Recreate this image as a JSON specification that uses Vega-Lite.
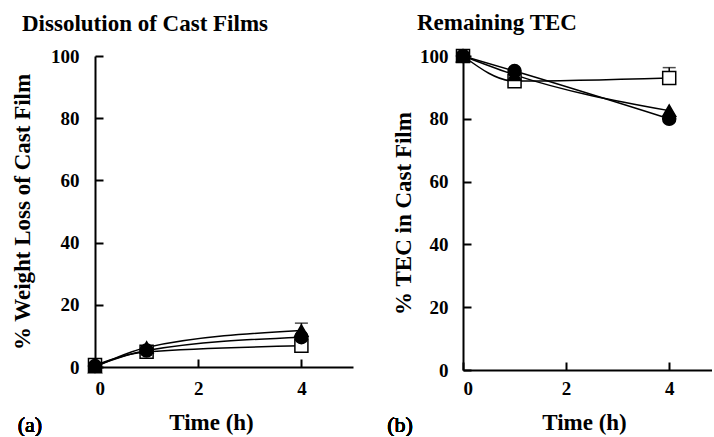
{
  "$schema": "https://vega.github.io/schema/vega-lite/v6.json",
  "padding": {"left": 11, "top": 12, "right": 0, "bottom": 0},
  "spacing": 34,
  "datasets": {
    "weightloss": [
      {"time": 0, "value": 0.6, "series": "square"},
      {"time": 1, "value": 4.9, "series": "square"},
      {"time": 4, "value": 6.8, "series": "square"},
      {"time": 0, "value": 0.3, "series": "circle"},
      {"time": 1, "value": 5.3, "series": "circle"},
      {"time": 4, "value": 9.6, "series": "circle"},
      {"time": 0, "value": 0.0, "series": "triangle"},
      {"time": 1, "value": 6.3, "series": "triangle"},
      {"time": 4, "value": 11.7, "hi": 14.1, "series": "triangle"}
    ],
    "tec": [
      {"time": 0, "value": 100, "series": "square"},
      {"time": 1, "value": 92.0, "series": "square"},
      {"time": 4, "value": 93.0, "hi": 96.3, "series": "square"},
      {"time": 0, "value": 100, "series": "circle"},
      {"time": 1, "value": 95.2, "series": "circle"},
      {"time": 4, "value": 80.0, "series": "circle"},
      {"time": 0, "value": 100, "series": "triangle"},
      {"time": 1, "value": 94.0, "series": "triangle"},
      {"time": 4, "value": 82.6, "series": "triangle"}
    ]
  },
  "hconcat": [
    {
      "width": 258,
      "height": 311,
      "title": {"text": "Dissolution of Cast Films", "anchor": "start", "frame": "group", "dx": -73},
      "data": {"name": "weightloss"},
      "encoding": {
        "x": {"field": "time", "type": "quantitative", "scale": {"domain": [0, 5]},
              "axis": {"values": [0, 2, 4], "title": "Time (h)", "titleX": 116, "labelPadding": 20, "titlePadding": 13}},
        "y": {"field": "value", "type": "quantitative", "scale": {"domain": [0, 100]},
              "axis": {"values": [0, 20, 40, 60, 80, 100], "title": "% Weight Loss of Cast Film", "labelPadding": 24, "titlePadding": 16}}
      },
      "layer": [
        {"mark": {"type": "line", "color": "black", "strokeWidth": 1.5, "interpolate": "monotone"},
         "encoding": {"detail": {"field": "series"}}},
        {"transform": [{"filter": "isValid(datum.hi)"}],
         "mark": {"type": "rule", "color": "black", "strokeWidth": 1.5},
         "encoding": {"y2": {"field": "hi"}}},
        {"transform": [{"filter": "isValid(datum.hi)"}],
         "mark": {"type": "tick", "orient": "horizontal", "color": "black", "size": 13, "thickness": 1.5},
         "encoding": {"y": {"field": "hi", "type": "quantitative"}}},
        {"mark": {"type": "point", "filled": true, "stroke": "black", "strokeWidth": 1.5, "size": 170, "opacity": 1},
         "encoding": {
           "shape": {"field": "series", "type": "nominal", "scale": {"domain": ["square", "circle", "triangle"], "range": ["square", "circle", "triangle-up"]}, "legend": null},
           "fill": {"field": "series", "type": "nominal", "scale": {"domain": ["square", "circle", "triangle"], "range": ["white", "black", "black"]}, "legend": null}
         }},
        {"mark": {"type": "text", "text": "(a)", "font": "Liberation Serif", "fontSize": 22, "fontWeight": 400, "color": "black", "baseline": "middle", "align": "center"},
         "encoding": {"x": {"datum": -1.26}, "y": {"datum": -18.6}}}
      ]
    },
    {
      "width": 249,
      "height": 314,
      "title": {"text": "Remaining TEC", "anchor": "start", "frame": "group", "dx": -46},
      "data": {"name": "tec"},
      "encoding": {
        "x": {"field": "time", "type": "quantitative", "scale": {"domain": [0, 4.83]},
              "axis": {"values": [0, 2, 4], "title": "Time (h)", "titleX": 121, "labelPadding": 17, "titlePadding": 13}},
        "y": {"field": "value", "type": "quantitative", "scale": {"domain": [0, 100]},
              "axis": {"values": [0, 20, 40, 60, 80, 100], "title": "% TEC in Cast Film", "labelPadding": 23, "titlePadding": 4}}
      },
      "layer": [
        {"mark": {"type": "line", "color": "black", "strokeWidth": 1.5, "interpolate": "monotone"},
         "encoding": {"detail": {"field": "series"}}},
        {"transform": [{"filter": "isValid(datum.hi)"}],
         "mark": {"type": "rule", "color": "black", "strokeWidth": 1.5},
         "encoding": {"y2": {"field": "hi"}}},
        {"transform": [{"filter": "isValid(datum.hi)"}],
         "mark": {"type": "tick", "orient": "horizontal", "color": "black", "size": 13, "thickness": 1.5},
         "encoding": {"y": {"field": "hi", "type": "quantitative"}}},
        {"mark": {"type": "point", "filled": true, "stroke": "black", "strokeWidth": 1.5, "size": 170, "opacity": 1},
         "encoding": {
           "shape": {"field": "series", "type": "nominal", "scale": {"domain": ["square", "circle", "triangle"], "range": ["square", "circle", "triangle-up"]}, "legend": null},
           "fill": {"field": "series", "type": "nominal", "scale": {"domain": ["square", "circle", "triangle"], "range": ["white", "black", "black"]}, "legend": null}
         }},
        {"mark": {"type": "text", "text": "(b)", "font": "Liberation Serif", "fontSize": 22, "fontWeight": 400, "color": "black", "baseline": "middle", "align": "center"},
         "encoding": {"x": {"datum": -1.22}, "y": {"datum": -17.4}}}
      ]
    }
  ],
  "resolve": {"scale": {"shape": "independent", "fill": "independent"}},
  "config": {
    "view": {"stroke": null},
    "background": "white",
    "title": {"font": "Liberation Serif", "fontSize": 23, "fontWeight": "bold", "color": "black", "offset": 11, "baseline": "alphabetic"},
    "axis": {
      "grid": false,
      "domainColor": "black", "domainWidth": 2,
      "tickColor": "black", "tickWidth": 2, "tickSize": -8,
      "labelFont": "Liberation Serif", "labelFontSize": 19, "labelFontWeight": "bold", "labelColor": "black",
      "titleFont": "Liberation Serif", "titleFontSize": 23, "titleFontWeight": "bold", "titleColor": "black"
    }
  }
}
